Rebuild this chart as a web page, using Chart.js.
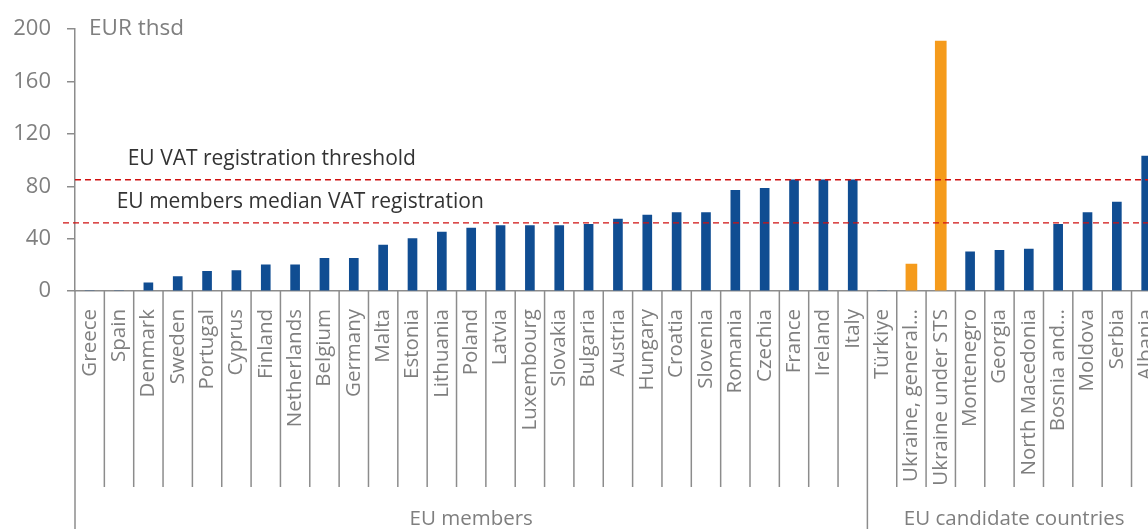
<!DOCTYPE html>
<html>
<head>
<meta charset="utf-8">
<script src="https://cdn.jsdelivr.net/npm/chart.js@4/dist/chart.umd.min.js"></script>
<style>
  html, body { margin: 0; padding: 0; background: #fff; overflow: hidden; }
  #wrap { width: 1189px; height: 529px; position: relative; }
</style>
</head>
<body>
<div id="wrap"><canvas id="myChart"></canvas></div>
<script>
/* global Chart */

// categories, in the order shown
var categories = ['Greece', 'Spain', 'Denmark', 'Sweden', 'Portugal', 'Cyprus', 'Finland',
    'Netherlands', 'Belgium', 'Germany', 'Malta', 'Estonia', 'Lithuania', 'Poland', 'Latvia',
    'Luxembourg', 'Slovakia', 'Bulgaria', 'Austria', 'Hungary', 'Croatia', 'Slovenia', 'Romania',
    'Czechia', 'France', 'Ireland', 'Italy', 'Türkiye', 'Ukraine, general…', 'Ukraine under STS',
    'Montenegro', 'Georgia', 'North Macedonia', 'Bosnia and…', 'Moldova', 'Serbia', 'Albania'];

// VAT registration thresholds, EUR thsd
var thresholds = [0, 0, 6.3, 11, 15, 15.6, 20, 20, 25, 25, 35, 40, 45, 48, 50, 50, 50, 51, 55, 58,
    60, 60, 77, 78.5, 85, 85, 85, 0, null, null, 30, 31, 32, 51, 60, 68, 103];
var ukraineValues = [null, null, null, null, null, null, null, null, null, null, null, null, null,
    null, null, null, null, null, null, null, null, null, null, null, null, null, null, null,
    20.5, 191, null, null, null, null, null, null, null];

var groupLabels = ['EU members', 'EU candidate countries'];
var groupSizes = [27, 10];

var refLabels = ['EU VAT registration threshold', 'EU members median VAT registration'];
var refValues = [85, 52];

var yTicks = [0, 40, 80, 120, 160, 200];

var grey = '#7f7f7f';
var axisGrey = '#8c8c8c';
var font = '"Open Sans", sans-serif';

var extras = {
    id: 'extras',
    afterDraw: function(chart) {
        var ctx = chart.ctx;
        var x = chart.scales.x, y = chart.scales.y;
        var area = chart.chartArea;
        var H = chart.height, W = chart.width;
        var step = (x.getPixelForValue(1) - x.getPixelForValue(0));
        ctx.save();

        // category separators and group boundaries
        var bounds = [0];
        for (var g = 0; g < groupSizes.length; g++) bounds.push(bounds[g] + groupSizes[g]);
        ctx.strokeStyle = axisGrey;
        ctx.lineWidth = 1.5;
        for (var i = 0; i <= categories.length; i++) {
            var px = x.getPixelForValue(i) - step / 2;
            var isGroup = bounds.indexOf(i) !== -1;
            ctx.beginPath();
            ctx.moveTo(px, area.bottom);
            ctx.lineTo(px, isGroup ? H : 487);
            ctx.stroke();
        }

        // group labels
        ctx.fillStyle = grey;
        ctx.font = '20.5px ' + font;
        ctx.textAlign = 'center';
        ctx.textBaseline = 'alphabetic';
        for (var k = 0; k < groupLabels.length; k++) {
            var x0 = x.getPixelForValue(bounds[k]) - step / 2;
            var x1 = x.getPixelForValue(bounds[k + 1]) - step / 2;
            ctx.fillText(groupLabels[k], (x0 + x1) / 2, 525);
        }

        // reference lines
        var starts = [75, 63];
        var textX = [127.7, 116.7];
        ctx.strokeStyle = '#d01010';
        ctx.lineWidth = 1.3;
        ctx.setLineDash([6, 4]);
        for (var r = 0; r < refValues.length; r++) {
            var py = y.getPixelForValue(refValues[r]);
            ctx.beginPath();
            ctx.moveTo(starts[r], py);
            ctx.lineTo(W, py);
            ctx.stroke();
        }
        ctx.setLineDash([]);
        ctx.fillStyle = '#333333';
        ctx.font = '21px ' + font;
        ctx.textAlign = 'left';
        for (var t = 0; t < refLabels.length; t++) {
            ctx.fillText(refLabels[t], textX[t], y.getPixelForValue(refValues[t]) - 15);
        }

        // unit label
        ctx.fillStyle = grey;
        ctx.font = '22.5px ' + font;
        ctx.fillText('EUR thsd', 89, 35);
        ctx.restore();
    }
};

var ctx = document.getElementById('myChart').getContext('2d');
var myChart = new Chart(ctx, {
    type: 'bar',
    data: {
        labels: categories,
        datasets: [{
            label: 'Threshold',
            data: thresholds,
            backgroundColor: '#104d92',
            barThickness: 9
        }, {
            label: 'Ukraine',
            data: ukraineValues,
            backgroundColor: '#f59b1c',
            barThickness: 11
        }]
    },
    options: {
        responsive: true,
        maintainAspectRatio: false,
        animation: false,
        layout: { padding: { top: 24, right: 15, left: 0, bottom: 0 } },
        plugins: { legend: { display: false }, tooltip: { enabled: false } },
        scales: {
            x: {
                stacked: true,
                grid: { display: false, drawTicks: false },
                border: { display: true, color: axisGrey, width: 1.5 },
                ticks: {
                    autoSkip: false,
                    minRotation: 90,
                    maxRotation: 90,
                    padding: 18,
                    color: grey,
                    font: { family: font, size: 20.5 }
                },
                afterFit: function(scale) { scale.height = 238; }
            },
            y: {
                stacked: true,
                min: 0,
                max: 200,
                afterBuildTicks: function(scale) {
                    scale.ticks = yTicks.map(function(v) { return { value: v }; });
                },
                grid: { drawOnChartArea: false, drawTicks: true, tickLength: 8, color: axisGrey, lineWidth: 1.5 },
                border: { display: true, color: axisGrey, width: 1.5 },
                ticks: {
                    padding: 16,
                    color: grey,
                    font: { family: font, size: 22 }
                },
                afterFit: function(scale) { scale.width = 75; }
            }
        }
    },
    plugins: [extras]
});
</script>
</body>
</html>
